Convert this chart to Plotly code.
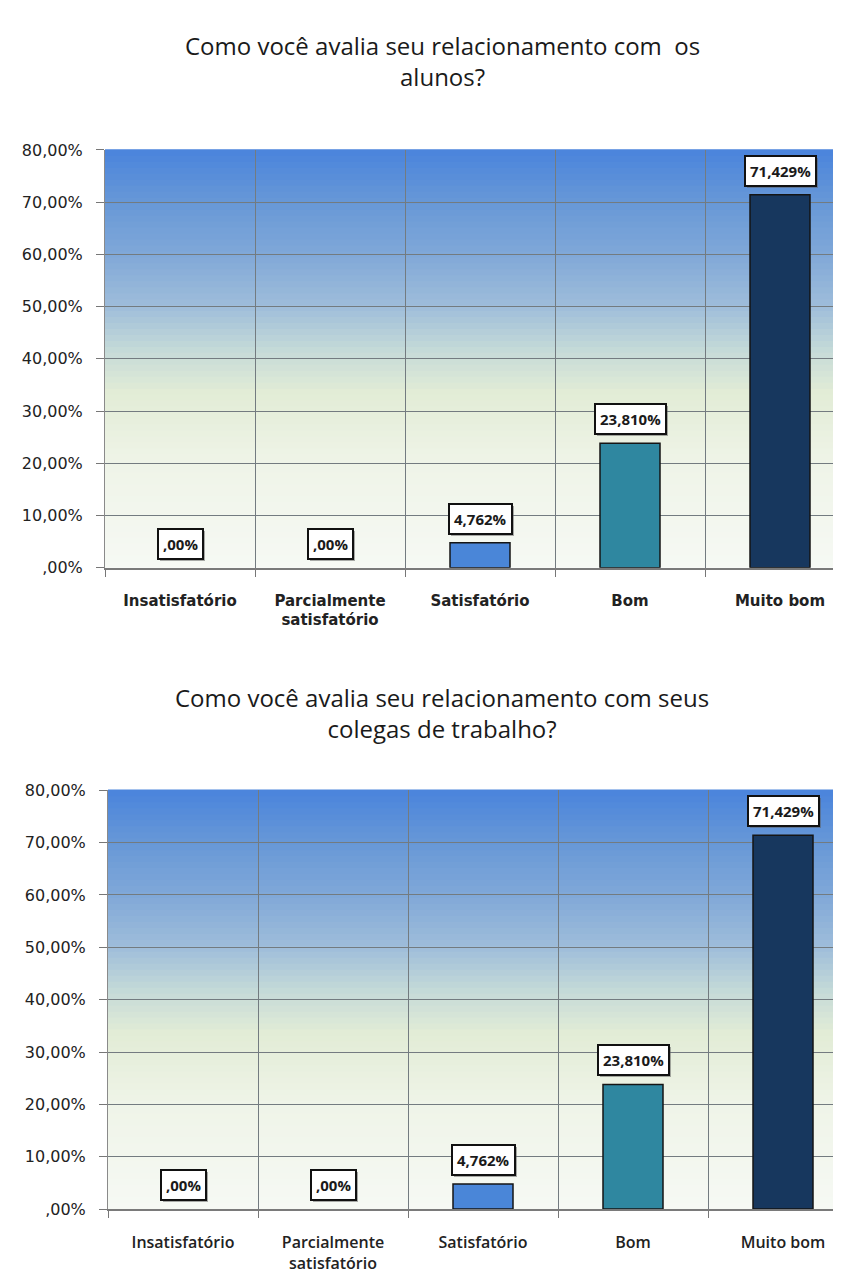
import plotly.graph_objects as go

# data
categorias = ["Insatisfatório", "Parcialmente<br>satisfatório", "Satisfatório", "Bom", "Muito bom"]
alunos = [0.0, 0.0, 4.762, 23.810, 71.429]
colegas = [0.0, 0.0, 4.762, 23.810, 71.429]
titulo1 = "Como você avalia seu relacionamento com  os<br>alunos?"
titulo2 = "Como você avalia seu relacionamento com seus<br>colegas de trabalho?"
y_ticks = [0, 10, 20, 30, 40, 50, 60, 70, 80]
y_ticktext = [",00%", "10,00%", "20,00%", "30,00%", "40,00%", "50,00%", "60,00%", "70,00%", "80,00%"]

cores = ["#4A86D8", "#4A86D8", "#4A86D8", "#2F87A0", "#17375E"]

# the page body has an 8px margin, so the figure is a bit smaller than the window
OFF = 8
W, H = 841 - OFF, 1286 - OFF


def px_x(p):
    return (p - OFF) / W


def px_y(p):
    return 1 - (p - OFF) / H


def fmt(v):
    if v == 0:
        return ",00%"
    return f"{v:.3f}".replace(".", ",") + "%"


def mix(c1, c2, t):
    a = [int(c1[i:i + 2], 16) for i in (1, 3, 5)]
    b = [int(c2[i:i + 2], 16) for i in (1, 3, 5)]
    return "#%02x%02x%02x" % tuple(round(a[k] + (b[k] - a[k]) * t) for k in range(3))


# gradient of the plot background (bottom -> top)
stops = [(0.0, "#F6F9F4"), (0.25, "#EFF4E8"), (0.42, "#E2ECD6"), (0.52, "#C5DAD8"),
         (0.62, "#A0BEDA"), (0.75, "#80A8D8"), (0.88, "#6697D7"), (1.0, "#4A84DC")]


def grad_color(t):
    for (t0, c0), (t1, c1) in zip(stops[:-1], stops[1:]):
        if t0 <= t <= t1:
            return mix(c0, c1, (t - t0) / (t1 - t0))
    return stops[-1][1]


fig = go.Figure()
shapes = []
annots = []

paineis = [
    (alunos, "x", "y", titulo1, 53),
    (colegas, "x2", "y2", titulo2, 714),
]

n = 70
for vals, xa, ya, tit, ty in paineis:
    fig.add_trace(go.Bar(
        x=categorias, y=vals, xaxis=xa, yaxis=ya, width=0.4,
        marker=dict(color=cores, line=dict(color="#151515", width=[1.5 if v > 0 else 0 for v in vals])),
        showlegend=False, hoverinfo="skip",
    ))
    for i in range(n):
        shapes.append(dict(
            type="rect", xref=xa + " domain", yref=ya + " domain",
            x0=0, x1=1, y0=i / n, y1=(i + 1) / n + 0.002,
            fillcolor=grad_color((i + 0.5) / n), line=dict(width=0), layer="below",
        ))
    for c, v in zip(categorias, vals):
        # shadow box
        annots.append(dict(
            x=c, y=v, xref=xa, yref=ya, text=fmt(v), showarrow=False,
            yanchor="bottom", yshift=6, xshift=2,
            font=dict(family="Open Sans", size=15, color="rgba(90,90,90,0)", weight="bold"),
            bgcolor="rgba(90,90,90,0.5)", bordercolor="rgba(90,90,90,0)", borderwidth=2, borderpad=4,
        ))
        annots.append(dict(
            x=c, y=v, xref=xa, yref=ya, text=fmt(v), showarrow=False,
            yanchor="bottom", yshift=8,
            font=dict(family="Open Sans", size=15, color="#1a1a1a", weight="bold"),
            bgcolor="white", bordercolor="#111111", borderwidth=2, borderpad=4,
        ))
    annots.append(dict(
        x=px_x(442), y=px_y(ty), xref="paper", yref="paper", text=tit, showarrow=False,
        xanchor="center", yanchor="middle",
        font=dict(family="Open Sans", size=24, color="#1a1a1a"),
    ))

eixo_x = dict(
    type="category", tickson="boundaries", ticks="outside", ticklen=7, tickcolor="#777777",
    showgrid=True, gridcolor="#737b80", gridwidth=1, showline=True, linecolor="#7a7a7a", linewidth=2,
    ticklabelstandoff=18, fixedrange=True,
)
eixo_y = dict(
    range=[0, 80], tickvals=y_ticks, ticktext=y_ticktext, ticks="outside", ticklen=8,
    tickcolor="#777777", showgrid=True, gridcolor="#737b80", gridwidth=1,
    showline=True, linecolor="#8a8a8a", linewidth=1, zeroline=False,
    tickfont=dict(family="DejaVu Sans", size=16, color="#222222"),
    ticklabelstandoff=10, fixedrange=True,
)

fig.update_layout(
    width=W, height=H, margin=dict(l=0, r=0, t=0, b=0),
    paper_bgcolor="white", plot_bgcolor="rgba(0,0,0,0)",
    xaxis=dict(eixo_x, domain=[px_x(105), 1], range=[-0.5, -0.5 + (841 - 105) / 150], anchor="y",
               tickfont=dict(family="DejaVu Sans", size=15, color="#222222", weight="bold")),
    yaxis=dict(eixo_y, domain=[px_y(567), px_y(143)], anchor="x"),
    xaxis2=dict(eixo_x, domain=[px_x(108), 1], range=[-0.5, -0.5 + (841 - 108) / 150], anchor="y2",
                tickfont=dict(family="Open Sans", size=16, color="#222222", weight=600)),
    yaxis2=dict(eixo_y, domain=[px_y(1218), px_y(793)], anchor="x2"),
    shapes=shapes, annotations=annots, bargap=0.6,
)

fig.write_html("out.html")
